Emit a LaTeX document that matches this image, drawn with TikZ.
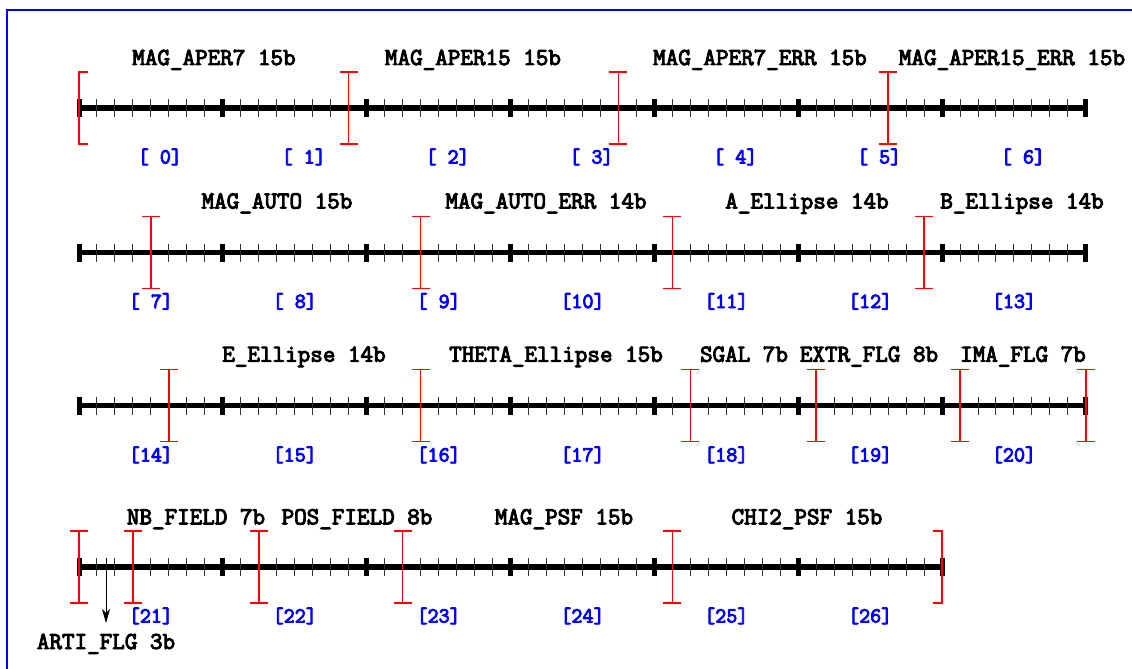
\documentclass[tikz,border=0pt]{standalone}
\usepackage{fontspec}
\newfontfamily\courbf{Latin Modern Mono}[FakeBold=4]
\usetikzlibrary{arrows.meta}
\definecolor{framblue}{RGB}{0,0,255}
\definecolor{lblblue}{RGB}{0,0,255}
\definecolor{markred}{RGB}{255,0,0}
\begin{document}
\begin{tikzpicture}[x=1pt,y=-1pt,
  fieldtitle/.style={font=\courbf\fontsize{24.4}{27}\selectfont, anchor=base, inner sep=0pt},
  bytelbl/.style={font=\courbf\fontsize{21.5}{24}\selectfont, text=lblblue, anchor=base, inner sep=0pt},
  ruler/.style={line width=5.5pt},
  minortick/.style={line width=1pt, black!80},
  majortick/.style={line width=5pt},
  redmark/.style={markred, line width=1.4pt},
  frameline/.style={framblue, line width=1.2pt},
  pics/markI/.style={code={\draw[redmark] (-9,-36) -- (9,-36) (0,-36) -- (0,36) (-9,36) -- (9,36);}},
  pics/markL/.style={code={\draw[redmark] (9,-36) -- (0,-36) -- (0,36) -- (9,36);}},
  pics/markR/.style={code={\draw[redmark] (-9,-36) -- (0,-36) -- (0,36) -- (-9,36);}}
]
\useasboundingbox (0,0) rectangle (1132,669);
\draw[frameline] (7,669) -- (7,10) -- (1132,10);

\def\bitw{17.98}
% rulers: y / number of bytes
\foreach \Y/\nb [count=\r] in {108/7, 252.5/7, 405.5/7, 567/6} {
  \pgfmathsetmacro{\xe}{79+\bitw*8*\nb}
  \coordinate (rs\r) at (79,\Y);
  \coordinate (re\r) at (\xe,\Y);
  \draw[ruler] (rs\r) -- (re\r);
  \pgfmathtruncatemacro{\nbits}{8*\nb-1}
  \foreach \b in {1,...,\nbits} {
    \pgfmathsetmacro{\xx}{79+\bitw*\b}
    \draw[minortick] (\xx,\Y-9) -- (\xx,\Y+9);
  }
  \foreach \k in {0,...,\nb} {
    \pgfmathsetmacro{\xx}{79+\bitw*8*\k}
    \draw[majortick] (\xx,\Y-9) -- (\xx,\Y+9);
  }
}

% field boundary markers
\pic at (79,108) {markL};
\foreach \b in {15,30,45} { \pic at ({79+\bitw*\b},108) {markI}; }
\foreach \b in {4,19,33,47} { \pic at ({79+\bitw*\b},252.5) {markI}; }
\foreach \b in {5,19,34,41,49,56} { \pic at ({79+\bitw*\b},405.5) {markI}; }
\foreach \b in {0,3,10,18,33} { \pic at ({79+\bitw*\b},567) {markI}; }
\pic at ({79+\bitw*48},567) {markR};

% byte labels
\foreach \k in {0,...,6} {
  \node[bytelbl] (b\k) at ({79+\bitw*(8*\k+4.5)},163.5) {[ \k]};
}
\foreach \k/\t in {0/{[ 7]},1/{[ 8]},2/{[ 9]},3/{[10]},4/{[11]},5/{[12]},6/{[13]}} {
  \node[bytelbl] (c\k) at ({79+\bitw*(8*\k+4)},308) {\t};
}
\foreach \k/\t in {0/14,1/15,2/16,3/17,4/18,5/19,6/20} {
  \node[bytelbl] (d\k) at ({79+\bitw*(8*\k+4)},461.5) {[\t]};
}
\foreach \k/\t in {0/21,1/22,2/23,3/24,4/25,5/26} {
  \node[bytelbl] (e\k) at ({79+\bitw*(8*\k+4)},622.5) {[\t]};
}

% field titles
\node[fieldtitle] (f1) at (214,65) {MAG\_APER7 15b};
\node[fieldtitle] (f2) at (473,65) {MAG\_APER15 15b};
\node[fieldtitle] (f3) at (760,65) {MAG\_APER7\_ERR 15b};
\node[fieldtitle] (f4) at (1012,65) {MAG\_APER15\_ERR 15b};
\node[fieldtitle] (f5) at (277,208.5) {MAG\_AUTO 15b};
\node[fieldtitle] (f6) at (546,208.5) {MAG\_AUTO\_ERR 14b};
\node[fieldtitle] (f7) at (807,208.5) {A\_Ellipse 14b};
\node[fieldtitle] (f8) at (1022,208.5) {B\_Ellipse 14b};
\node[fieldtitle] (f9) at (304,361.7) {E\_Ellipse 14b};
\node[fieldtitle] (f10) at (556,361.7) {THETA\_Ellipse 15b};
\node[fieldtitle] (f11) at (744,361.7) {SGAL 7b};
\node[fieldtitle] (f12) at (869,361.7) {EXTR\_FLG 8b};
\node[fieldtitle] (f13) at (1023,361.7) {IMA\_FLG 7b};
\node[fieldtitle] (f14) at (196,524.3) {NB\_FIELD 7b};
\node[fieldtitle] (f15) at (357,524.3) {POS\_FIELD 8b};
\node[fieldtitle] (f16) at (564,524.3) {MAG\_PSF 15b};
\node[fieldtitle] (f17) at (807,524.3) {CHI2\_PSF 15b};
\node[fieldtitle] (arti) at (106,649) {ARTI\_FLG 3b};

% ARTI_FLG arrow
\coordinate (artiA) at (106,558);
\coordinate (artiB) at (106,623);
\draw[-{Stealth[length=14pt,width=8pt,inset=4pt]}, line width=1pt] (artiA) -- (artiB);
\end{tikzpicture}
\end{document}
